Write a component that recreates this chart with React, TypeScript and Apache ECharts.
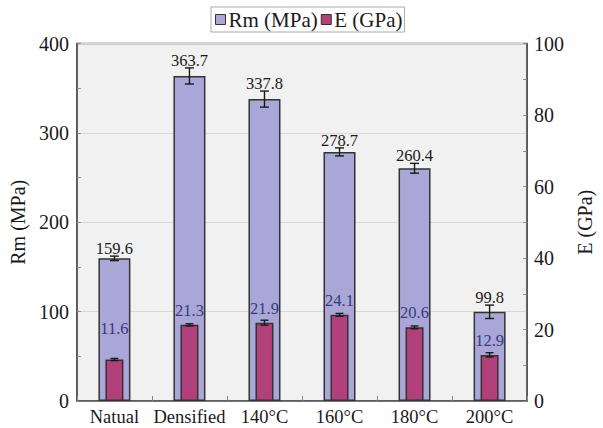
import React, { useEffect, useRef } from "react";
import * as echarts from "echarts";

const categories = ["Natual", "Densified", "140°C", "160°C", "180°C", "200°C"];
const rmValues = [159.6, 363.7, 337.8, 278.7, 260.4, 99.8];
const rmErrors = [2.5, 9, 9, 4.5, 5.5, 7.5];
const eValues = [11.6, 21.3, 21.9, 24.1, 20.6, 12.9];
const eErrors = [0.3, 0.3, 0.7, 0.4, 0.4, 0.6];
const seriesNames = ["Rm (MPa)", "E (GPa)"];

const FONT = "Liberation Serif";

function errorSeries(
  values: number[],
  errors: number[],
  xAxisIndex: number,
  yAxisIndex: number,
  capHalf: number,
  withLabel: boolean
) {
  return {
    type: "custom",
    xAxisIndex,
    yAxisIndex,
    z: 10,
    silent: true,
    data: values.map((v, i) => [i, v - errors[i], v + errors[i], v]),
    encode: { x: 0, y: [1, 2] },
    renderItem: (params: any, api: any) => {
      const idx = api.value(0);
      const lo = api.coord([idx, api.value(1)]);
      const hi = api.coord([idx, api.value(2)]);
      const x = hi[0];
      const style = { stroke: "#1a1a1a", lineWidth: 1.4 };
      const children: any[] = [
        { type: "line", shape: { x1: x, y1: hi[1], x2: x, y2: lo[1] }, style },
        { type: "line", shape: { x1: x - capHalf, y1: hi[1], x2: x + capHalf, y2: hi[1] }, style },
        { type: "line", shape: { x1: x - capHalf, y1: lo[1], x2: x + capHalf, y2: lo[1] }, style },
      ];
      if (withLabel) {
        children.push({
          type: "text",
          x,
          y: hi[1] + 1,
          style: {
            text: Number(api.value(3)).toFixed(1),
            fill: "#1a1a1a",
            fontSize: 16.5,
            fontFamily: FONT,
            align: "center",
            verticalAlign: "bottom",
          },
        });
      }
      return { type: "group", children };
    },
  };
}

export default function App() {
  const ref = useRef<HTMLDivElement>(null);

  useEffect(() => {
    if (!ref.current) return;
    const chart = echarts.init(ref.current, undefined, { renderer: "svg" });
    const axisLabel = { color: "#1a1a1a", fontFamily: FONT };
    chart.setOption({
      animation: false,
      backgroundColor: "#ffffff",
      textStyle: { fontFamily: FONT },
      legend: {
        data: seriesNames.map((n) => ({ name: n, icon: "rect" })),
        left: 211,
        top: 7,
        itemWidth: 10,
        itemHeight: 10,
        itemGap: 3,
        padding: [2, 2, 2, 4],
        borderColor: "#aaaaaa",
        borderWidth: 1,
        backgroundColor: "#ffffff",
        itemStyle: { borderColor: "#333", borderWidth: 1 },
        textStyle: { fontSize: 21, fontFamily: FONT, color: "#1a1a1a", padding: [0, 0, 0, -2] },
      },
      grid: {
        show: true,
        left: 76,
        right: 63,
        top: 43.5,
        bottom: 27,
        backgroundColor: "#f1f1f1",
        borderColor: "#555",
        borderWidth: 1.5,
      },
      xAxis: [
        {
          type: "category",
          data: categories,
          axisLine: { lineStyle: { color: "#555", width: 1.5 } },
          axisTick: { show: true, inside: true, length: 5, alignWithLabel: false, interval: 0, lineStyle: { color: "#888" } },
          axisLabel: { ...axisLabel, fontSize: 18.5, margin: 6, interval: 0 },
        },
        { type: "category", data: categories, show: false },
      ],
      yAxis: [
        {
          type: "value",
          min: 0,
          max: 400,
          interval: 100,
          name: "Rm (MPa)",
          nameLocation: "middle",
          nameGap: 48,
          nameRotate: 90,
          nameTextStyle: { fontSize: 20, fontFamily: FONT, color: "#1a1a1a" },
          axisLine: { show: true, lineStyle: { color: "#555", width: 1.5 } },
          axisTick: { show: true, inside: true, length: 4, lineStyle: { color: "#888" } },
          minorTick: { show: true, splitNumber: 2, length: 4, lineStyle: { color: "#888" } },
          splitLine: { show: true, lineStyle: { color: "#d8d8d8", width: 1 } },
          axisLabel: { ...axisLabel, fontSize: 20, margin: 8 },
        },
        {
          type: "value",
          min: 0,
          max: 100,
          interval: 20,
          position: "right",
          name: "E (GPa)",
          nameLocation: "middle",
          nameGap: 43,
          nameRotate: 90,
          nameTextStyle: { fontSize: 20, fontFamily: FONT, color: "#1a1a1a" },
          axisLine: { show: true, lineStyle: { color: "#555", width: 1.5 } },
          axisTick: { show: true, inside: true, length: 4, lineStyle: { color: "#888" } },
          minorTick: { show: true, splitNumber: 2, length: 4, lineStyle: { color: "#888" } },
          splitLine: { show: false },
          axisLabel: { ...axisLabel, fontSize: 20, margin: 7 },
        },
      ],
      series: [
        {
          name: seriesNames[0],
          type: "bar",
          xAxisIndex: 0,
          yAxisIndex: 0,
          barWidth: 32,
          data: rmValues,
          itemStyle: { color: "#aaa7d8", borderColor: "#333", borderWidth: 1.5 },
        },
        {
          name: seriesNames[1],
          type: "bar",
          xAxisIndex: 1,
          yAxisIndex: 1,
          barWidth: 18,
          z: 3,
          data: eValues.map((v, i) => (i === 0 ? { value: v, label: { distance: 23 } } : v)),
          itemStyle: { color: "#b2407a", borderColor: "#333", borderWidth: 1.5 },
          label: {
            show: true,
            position: "top",
            distance: 6,
            fontSize: 16.5,
            fontFamily: FONT,
            color: "#3a3a7a",
            formatter: (p: any) => Number(p.value).toFixed(1),
          },
        },
        errorSeries(rmValues, rmErrors, 0, 0, 4.5, true),
        errorSeries(eValues, eErrors, 1, 1, 4, false),
      ],
    });
    return () => chart.dispose();
  }, []);

  return (
    <div
      ref={ref}
      style={{ position: "absolute", left: 0, top: 0, width: 603, height: 428, background: "#fff" }}
    />
  );
}
